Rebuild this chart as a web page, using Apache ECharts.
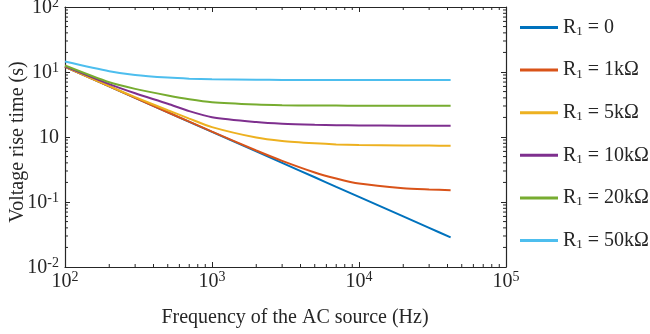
<!DOCTYPE html>
<html>
<head>
<meta charset="utf-8">
<script src="https://cdn.jsdelivr.net/npm/echarts@6/dist/echarts.min.js"></script>
<style>html,body{margin:0;padding:0;background:#fff;}#c{width:650px;height:334px;}</style>
</head>
<body>
<div id="c"></div>
<script>
const freq = [100, 200, 300, 500, 700, 1000, 2000, 3000, 5000, 7000, 10000, 20000, 30000, 42000];
const seriesNames = ['R1 = 0', 'R1 = 1kΩ', 'R1 = 5kΩ', 'R1 = 10kΩ', 'R1 = 20kΩ', 'R1 = 50kΩ'];
const legendSuffix = [' = 0', ' = 1kΩ', ' = 5kΩ', ' = 10kΩ', ' = 20kΩ', ' = 50kΩ'];
const r0   = [12.0, 6.0, 4.0, 2.4, 1.71, 1.2, 0.6, 0.4, 0.24, 0.171, 0.12, 0.06, 0.04, 0.0286];
const r1k  = [12.0, 6.0, 4.0, 2.4, 1.72, 1.21, 0.62, 0.43, 0.285, 0.23, 0.192, 0.163, 0.156, 0.152];
const r5k  = [12.1, 6.05, 4.1, 2.58, 1.92, 1.42, 0.98, 0.87, 0.8, 0.77, 0.755, 0.74, 0.737, 0.735];
const r10k = [12.2, 6.5, 4.7, 3.25, 2.5, 2.02, 1.7, 1.6, 1.54, 1.52, 1.505, 1.495, 1.49, 1.49];
const r20k = [12.6, 6.95, 5.5, 4.35, 3.8, 3.42, 3.15, 3.08, 3.05, 3.04, 3.03, 3.03, 3.03, 3.03];
const r50k = [14.5, 10.3, 9.0, 8.2, 7.9, 7.75, 7.6, 7.56, 7.53, 7.52, 7.51, 7.5, 7.5, 7.5];
const colors = ['#0072BD', '#D95319', '#EDB120', '#7E2F8E', '#77AC30', '#4DBEEE'];
const xTickValues = [100, 1000, 10000, 100000];
const xTickExp = ['2', '3', '4', '5'];
const yTickValues = [0.01, 0.1, 1, 10, 100];
const yTickExp = ['-2', '-1', '', '1', '2'];

const allSeries = [r0, r1k, r5k, r10k, r20k, r50k];
const xMinor = [];
for (let e = 2; e < 5; e++) for (let k = 2; k <= 9; k++) xMinor.push(k * Math.pow(10, e));
const yMinor = [];
for (let e = -2; e < 2; e++) for (let k = 2; k <= 9; k++) yMinor.push(+(k * Math.pow(10, e)).toPrecision(3));

const FONT = '"Liberation Serif", "DejaVu Serif", serif';
const AX = '#262626';
const chart = echarts.init(document.getElementById('c'), null, {renderer: 'canvas'});

function idxOf(arr, v) {
  for (let i = 0; i < arr.length; i++) if (Math.abs(Math.log10(arr[i]) - Math.log10(v)) < 1e-6) return i;
  return -1;
}
const tickRich = {
  b: {fontFamily: FONT, fontSize: 20, color: AX, lineHeight: 22, verticalAlign: 'bottom'},
  p: {fontFamily: FONT, fontSize: 14, color: AX, lineHeight: 22, verticalAlign: 'top', padding: [0, 0, 8, 0]}
};
function tickFmt(values, exps) {
  return function (v) {
    const i = idxOf(values, v);
    if (i < 0) return '';
    return exps[i] === '' ? '{b|10}' : '{b|10}{p|' + exps[i] + '}';
  };
}

function minorTickSeries(vals, isX) {
  return {
    type: 'custom', xAxisIndex: 0, yAxisIndex: 0, silent: true, clip: false, z: 5,
    data: vals.map(v => isX ? [v, 1] : [1000, v]),
    renderItem: function (params, api) {
      const L = 3;
      if (isX) {
        const v = api.value(0);
        const b = api.coord([v, 0.01]);
        const t = api.coord([v, 100]);
        return {type: 'group', children: [
          {type: 'line', shape: {x1: b[0], y1: b[1], x2: b[0], y2: b[1] - L}, style: {stroke: AX, lineWidth: 1}},
          {type: 'line', shape: {x1: t[0], y1: t[1], x2: t[0], y2: t[1] + L}, style: {stroke: AX, lineWidth: 1}}
        ]};
      } else {
        const v = api.value(1);
        const l = api.coord([100, v]);
        const r = api.coord([100000, v]);
        return {type: 'group', children: [
          {type: 'line', shape: {x1: l[0], y1: l[1], x2: l[0] + L, y2: l[1]}, style: {stroke: AX, lineWidth: 1}},
          {type: 'line', shape: {x1: r[0], y1: r[1], x2: r[0] - L, y2: r[1]}, style: {stroke: AX, lineWidth: 1}}
        ]};
      }
    }
  };
}

const lineSeries = allSeries.map((arr, i) => ({
  name: seriesNames[i],
  type: 'line',
  xAxisIndex: 0, yAxisIndex: 0,
  data: freq.map((f, j) => [f, arr[j]]),
  showSymbol: false, symbol: 'none',
  smooth: 0.25,
  lineStyle: {color: colors[i], width: 2},
  itemStyle: {color: colors[i]},
  z: 3
}));

const axisCommon = {
  type: 'log', logBase: 10,
  axisLine: {show: true, lineStyle: {color: AX, width: 1.2}},
  axisTick: {show: true, inside: true, length: 5, lineStyle: {color: AX, width: 1}},
  splitLine: {show: false}
};

chart.setOption({
  animation: false,
  backgroundColor: '#fff',
  grid: {left: 65, top: 7, width: 441, height: 260, containLabel: false, outerBoundsMode: 'none'},
  legend: {
    orient: 'vertical', left: 515, top: 12,
    itemWidth: 38, itemHeight: 3, icon: 'rect', itemGap: 21.6,
    data: seriesNames,
    formatter: function (name) {
      const i = seriesNames.indexOf(name);
      return '{r|R}{s|1}{r|' + legendSuffix[i] + '}';
    },
    textStyle: {
      rich: {
        r: {fontFamily: FONT, fontSize: 20, color: AX, lineHeight: 22},
        s: {fontFamily: FONT, fontSize: 13, color: AX, lineHeight: 22, padding: [8, 0, 0, 0]}
      }
    }
  },
  xAxis: [
    Object.assign({}, axisCommon, {
      position: 'bottom', min: 100, max: 100000,
      axisLabel: {show: true, margin: 3, formatter: tickFmt(xTickValues, xTickExp), rich: tickRich},
      name: 'Frequency of the AC source (Hz)', nameLocation: 'middle', nameGap: 41, nameMoveOverlap: false,
      nameTextStyle: {fontFamily: FONT, fontSize: 20, color: AX, padding: [0, 0, 0, 19]}
    }),
    Object.assign({}, axisCommon, {
      position: 'top', min: 100, max: 100000, axisLabel: {show: false}
    })
  ],
  yAxis: [
    Object.assign({}, axisCommon, {
      position: 'left', min: 0.01, max: 100,
      axisLabel: {show: true, margin: 6, formatter: tickFmt(yTickValues, yTickExp), rich: tickRich},
      name: 'Voltage rise time (s)', nameLocation: 'middle', nameGap: 37, nameRotate: 90, nameMoveOverlap: false,
      nameTextStyle: {fontFamily: FONT, fontSize: 20, color: AX, padding: [0, 10, 0, 0]}
    }),
    Object.assign({}, axisCommon, {
      position: 'right', min: 0.01, max: 100, axisLabel: {show: false}
    })
  ],
  series: lineSeries.concat([minorTickSeries(xMinor, true), minorTickSeries(yMinor, false)])
});
</script>
</body>
</html>
